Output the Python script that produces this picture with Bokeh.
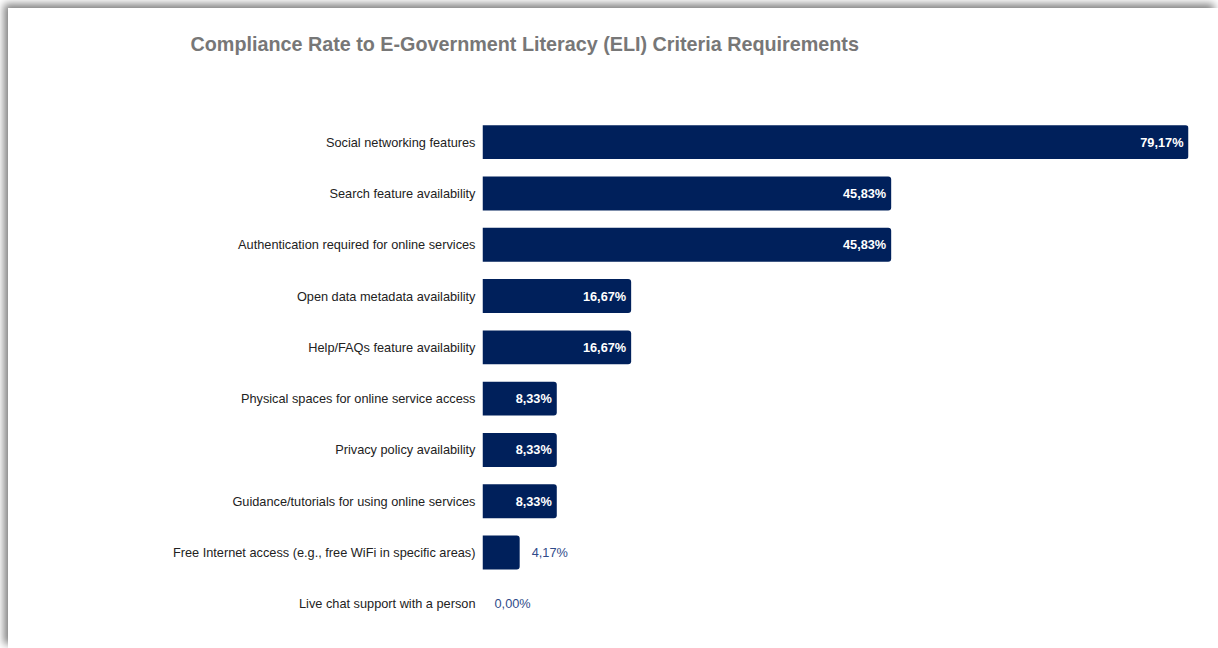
from bokeh.plotting import figure
from bokeh.models import FactorRange, Range1d, ColumnDataSource, Title
from bokeh.core.properties import value
from bokeh.embed import file_html
from bokeh.resources import INLINE

title_text = "Compliance Rate to E-Government Literacy (ELI) Criteria Requirements"
categories = [
    "Social networking features",
    "Search feature availability",
    "Authentication required for online services",
    "Open data metadata availability",
    "Help/FAQs feature availability",
    "Physical spaces for online service access",
    "Privacy policy availability",
    "Guidance/tutorials for using online services",
    "Free Internet access (e.g., free WiFi in specific areas)",
    "Live chat support with a person",
]
rates = [79.17, 45.83, 45.83, 16.67, 16.67, 8.33, 8.33, 8.33, 4.17, 0.00]

BAR = "#00205B"
FONT = "Liberation Sans"

labels = [f"{v:.2f}".replace(".", ",") + "%" for v in rates]
inside = [v > 5 for v in rates]

src_all = ColumnDataSource(dict(cat=categories, val=rates))
src_in = ColumnDataSource(dict(
    cat=[c for c, i in zip(categories, inside) if i],
    val=[v for v, i in zip(rates, inside) if i],
    lab=[l for l, i in zip(labels, inside) if i],
))
src_out = ColumnDataSource(dict(
    cat=[c for c, i in zip(categories, inside) if not i],
    val=[v for v, i in zip(rates, inside) if not i],
    lab=[l for l, i in zip(labels, inside) if not i],
))

W, H = 1210, 640
p = figure(
    width=W, height=H,
    y_range=FactorRange(factors=list(reversed(categories))),
    x_range=Range1d(0, max(rates)),
    output_backend="svg", toolbar_location=None,
    min_border_left=474, min_border_right=30,
    min_border_top=108, min_border_bottom=19,
    margin=(8, 0, 0, 8),
    styles={"box-shadow": "-4px -4px 8px rgba(0,0,0,0.5)"},
)
p.outline_line_color = None
p.background_fill_color = "white"
p.border_fill_color = "white"
p.xgrid.visible = False
p.ygrid.visible = False
p.xaxis.visible = False

# spacer panel between the frame and the title
p.add_layout(Title(text=" ", text_font_size="10px", standoff=49), "above")

p.title.text = title_text
p.title.align = "left"
p.title.offset = -292
p.title.standoff = 0
p.title.text_font = FONT
p.title.text_font_size = "19.75px"
p.title.text_font_style = "bold"
p.title.text_color = "#777777"

ya = p.yaxis[0]
ya.axis_line_color = None
ya.major_tick_line_color = None
ya.minor_tick_line_color = None
ya.major_tick_out = 0
ya.major_tick_in = 0
ya.major_label_standoff = 7
ya.major_label_text_font = FONT
ya.major_label_text_font_size = "12.75px"
ya.major_label_text_color = "#222222"

p.hbar(y="cat", right="val", left=0, height=0.66, source=src_all,
       fill_color=BAR, line_color=None, border_radius=(0, 3, 3, 0))

p.text(x="val", y="cat", text="lab", source=src_in, x_offset=-5,
       text_align="right", text_baseline="middle", text_color="white",
       text_font=value(FONT), text_font_size="12.75px", text_font_style="bold")
p.text(x="val", y="cat", text="lab", source=src_out, x_offset=12,
       text_align="left", text_baseline="middle", text_color="#2f4b8a",
       text_font=value(FONT), text_font_size="12.75px")

open("out.html", "w").write(file_html(p, INLINE))
